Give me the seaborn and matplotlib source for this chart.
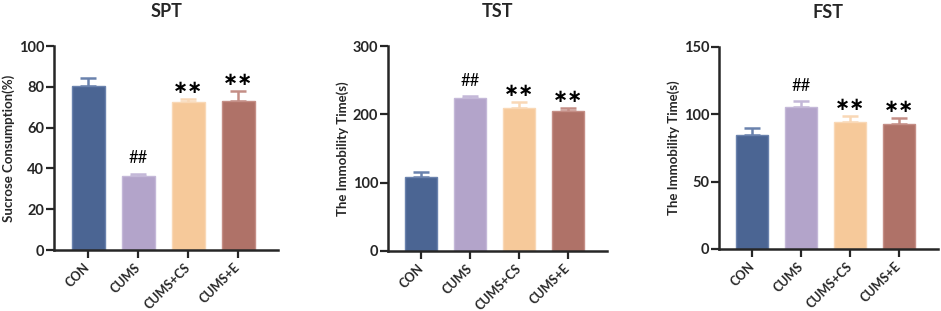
import numpy as np
import pandas as pd
import seaborn as sns
from matplotlib import pyplot as plt

groups = ["CON", "CUMS", "CUMS+CS", "CUMS+E"]
colors = ["#4b6593", "#b3a4ca", "#f6c99a", "#af7268"]
edge_colors = ["#6a82ad", "#c4b8d8", "#f9d8b6", "#c48e86"]

spt_mean = [80.5, 36.5, 72.5, 73.0]
spt_err = [3.8, 1.0, 1.6, 5.0]
tst_mean = [108.7, 224.3, 209.7, 204.4]
tst_err = [7.3, 2.0, 7.9, 5.3]
fst_mean = [85.0, 105.5, 94.4, 92.7]
fst_err = [5.0, 4.7, 4.7, 4.9]

marks = ["", "##", "**", "**"]

panels = [
    ("SPT", "Sucrose Consumption(%)", spt_mean, spt_err, 100, 20),
    ("TST", "The Immobility Time(s)", tst_mean, tst_err, 300, 100),
    ("FST", "The Immobility Time(s)", fst_mean, fst_err, 150, 50),
]
# axes boxes in pixels: left, right, top, bottom
boxes = [(54, 278, 46, 250), (388, 607, 46, 251), (719, 938, 47, 249)]

sns.set_style("ticks")
plt.rcParams['font.family'] = ['Lato', 'DejaVu Sans']

W, H = 941, 311
fig = plt.figure(figsize=(W / 100, H / 100), dpi=100)

for (title, ylabel, means, errs, ymax, step), (l, r, t, b) in zip(panels, boxes):
    ax = fig.add_axes([l / W, 1 - b / H, (r - l) / W, (b - t) / H])
    df = pd.DataFrame({"group": groups, "value": means})
    sns.barplot(data=df, x="group", y="value", hue="group", palette=colors,
                saturation=1, legend=False, width=0.66, ax=ax, zorder=2)
    for i, p in enumerate(ax.patches):
        p.set_edgecolor(edge_colors[i])
        p.set_linewidth(1.0)
    for i in range(len(groups)):
        ax.errorbar(i, means[i], yerr=[[0], [errs[i]]], fmt="none",
                    ecolor=edge_colors[i], elinewidth=1.8, capsize=5.5,
                    capthick=1.8, zorder=1)
        if marks[i]:
            top = means[i] + errs[i]
            if marks[i] == "##":
                ax.text(i, top + ymax * 0.035, marks[i], ha="center", va="bottom",
                        fontsize=12, color="black")
            else:
                ax.text(i, top + ymax * 0.01, "\u2217\u2217", ha="center", va="bottom",
                        fontsize=13, family="DejaVu Sans", fontweight="bold", color="black")
    ax.set_ylim(0, ymax)
    ax.set_xlim(-0.68, 3.8)
    ax.set_yticks(np.arange(0, ymax + 1, step))
    ax.set_xlabel("")
    ax.set_ylabel(ylabel, fontsize=9.5, fontweight="bold", labelpad=3)
    ax.set_title(title, fontsize=13, fontweight="bold", pad=21)
    ax.set_xticks(range(len(groups)))
    ax.set_xticklabels(groups, rotation=45, ha="right", va="center",
                       rotation_mode="anchor", fontsize=9, fontweight="bold")
    for lab in ax.get_yticklabels():
        lab.set_fontweight("bold")
        lab.set_fontsize(10.5)
    ax.tick_params(axis="y", width=1.6, length=6, direction="out", pad=1)
    ax.tick_params(axis="x", width=1.6, length=6, direction="out", pad=5)
    sns.despine(ax=ax)
    for s in ["left", "bottom"]:
        ax.spines[s].set_linewidth(1.8)

fig.savefig("out.png", dpi=100)
